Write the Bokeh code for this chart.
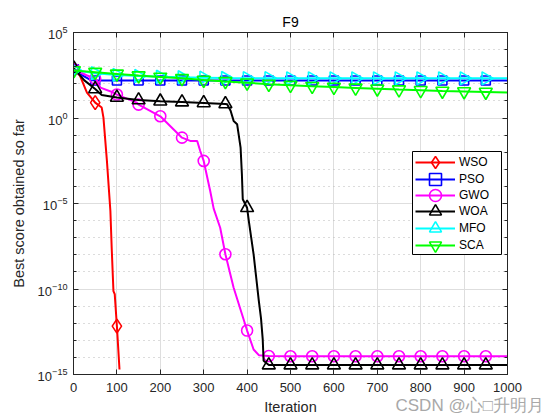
import numpy as np
from bokeh.plotting import figure
from bokeh.models import (FixedTicker, LinearAxis, LogAxis, Legend, LegendItem,
                          Label, CustomJSTickFormatter, BoxAnnotation)
from bokeh.embed import file_html
from bokeh.resources import INLINE

# ---------------- data (log10 of best score) -------------
marker_iters = [1, 50, 100, 150, 200, 250, 300, 350, 400, 450, 500, 550, 600,
                650, 700, 750, 800, 850, 900, 950]

wso_iter = [1, 15, 31, 50, 65, 69, 77, 85, 88, 92, 95, 100, 106]
wso_log10 = [2.85, 2.46, 1.49, 0.90, 0.61, 0.02, -2.51, -5.44, -7.59, -10.12,
             -10.30, -12.17, -14.71]

pso_iter = [1, 20, 40, 50, 100, 150, 200, 250, 300, 350, 400, 450, 500, 550,
            600, 650, 700, 750, 800, 850, 900, 950, 1000]
pso_log10 = [2.85, 2.50, 2.22, 2.19, 2.19, 2.19, 2.19, 2.19, 2.19, 2.19, 2.19,
             2.19, 2.19, 2.19, 2.19, 2.19, 2.19, 2.19, 2.19, 2.19, 2.19, 2.19, 2.19]

gwo_iter = [1, 30, 50, 54, 62, 92, 100, 146, 150, 200, 250, 269, 285, 292, 300,
            315, 323, 338, 350, 369, 400, 415, 427, 450, 500, 550, 600, 650,
            700, 750, 800, 850, 900, 950, 1000]
gwo_log10 = [2.85, 2.50, 2.30, 2.20, 1.78, 1.49, 1.37, 0.90, 0.78, 0.10, -1.15,
             -1.34, -1.34, -1.93, -2.51, -4.27, -5.30, -6.42, -7.97, -9.93,
             -12.43, -13.54, -13.87, -13.92, -13.93, -13.93, -13.93, -13.93,
             -13.93, -13.93, -13.93, -13.93, -13.93, -13.93, -13.93]

woa_iter = [1, 25, 50, 65, 100, 150, 200, 250, 300, 350, 354, 362, 369, 377,
            385, 388, 390, 400, 404, 415, 427, 432, 436, 438, 450, 500, 550,
            600, 650, 700, 750, 800, 850, 900, 950, 1000]
woa_log10 = [2.90, 2.20, 1.70, 1.35, 1.20, 1.05, 0.98, 0.93, 0.88, 0.82, 0.80,
             0.42, -0.17, -0.36, -1.73, -3.29, -4.75, -5.25, -6.03, -7.97,
             -10.70, -11.70, -12.95, -14.20, -14.45, -14.45, -14.45, -14.45,
             -14.45, -14.45, -14.45, -14.45, -14.45, -14.45, -14.45, -14.45]

mfo_iter = [1, 50, 100, 150, 200, 250, 300, 350, 400, 450, 500, 550, 600, 650,
            700, 750, 800, 850, 900, 950, 1000]
mfo_log10 = [2.80, 2.62, 2.52, 2.46, 2.41, 2.38, 2.36, 2.34, 2.33, 2.33, 2.32,
             2.32, 2.32, 2.32, 2.32, 2.32, 2.32, 2.32, 2.32, 2.32, 2.32]

sca_iter = [1, 50, 100, 150, 200, 250, 300, 350, 400, 450, 500, 550, 600, 650,
            700, 750, 800, 850, 900, 950, 1000]
sca_log10 = [2.78, 2.68, 2.58, 2.48, 2.40, 2.32, 2.22, 2.14, 2.06, 1.98, 1.92,
             1.86, 1.81, 1.76, 1.71, 1.66, 1.62, 1.58, 1.55, 1.52, 1.49]

series_names = ["WSO", "PSO", "GWO", "WOA", "MFO", "SCA"]
x_ticks = [0, 100, 200, 300, 400, 500, 600, 700, 800, 900, 1000]
y_major_exponents = [-15, -10, -5, 0, 5]
y_minor_exponents = list(range(-15, 6))
watermark = "CSDN @心□升明月"

# ---------------- figure ---------------------------------------------------------
FONT = "Liberation Sans"
AX = "#262626"

p = figure(frame_width=434, frame_height=342, x_range=(0, 1000),
           y_range=(1e-15, 1e5), y_axis_type="log",
           output_backend="svg", toolbar_location=None,
           min_border_left=73, min_border_right=45, min_border_top=32,
           min_border_bottom=44, title="F9")
p.background_fill_color = "white"
p.border_fill_color = "white"
p.outline_line_color = AX
p.outline_line_width = 1

p.title.align = "center"
p.title.text_font = FONT
p.title.text_font_size = "14px"
p.title.text_font_style = "normal"
p.title.text_color = "#000000"
p.title.offset = 0
p.title.standoff = 5

xt = FixedTicker(ticks=x_ticks)
yt = FixedTicker(ticks=[10.0 ** e for e in y_major_exponents],
                 minor_ticks=[10.0 ** e for e in y_minor_exponents])

p.xaxis.ticker = xt
p.yaxis.ticker = yt
for ax in (p.xaxis[0], p.yaxis[0]):
    ax.axis_line_color = AX
    ax.major_tick_line_color = AX
    ax.minor_tick_line_color = AX
    ax.major_tick_in = 5
    ax.major_tick_out = 0
    ax.minor_tick_in = 3
    ax.minor_tick_out = 0
    ax.major_label_text_font = FONT
    ax.major_label_text_font_size = "13px"
    ax.major_label_text_color = AX
    ax.axis_label_text_font = FONT
    ax.axis_label_text_font_size = "14.5px"
    ax.axis_label_text_font_style = "normal"
    ax.axis_label_text_color = AX
p.xaxis.axis_label = "Iteration"
p.yaxis.axis_label = "Best score obtained so far"
p.xaxis.major_label_standoff = 8
p.xaxis.axis_label_standoff = 4
p.yaxis.major_label_standoff = 6
p.yaxis.axis_label_standoff = 8
p.xaxis.minor_tick_line_color = None

blank = CustomJSTickFormatter(code="return ''")
top = LinearAxis(ticker=xt, formatter=blank, major_tick_in=5, major_tick_out=0,
                 minor_tick_line_color=None, major_label_text_font_size="0px",
                 major_label_standoff=0, axis_line_color=AX,
                 major_tick_line_color=AX)
right = LogAxis(ticker=yt, formatter=blank, major_tick_in=5, major_tick_out=0,
                minor_tick_in=3, minor_tick_out=0,
                major_label_text_font_size="0px", major_label_standoff=0,
                axis_line_color=AX, major_tick_line_color=AX,
                minor_tick_line_color=AX)
p.add_layout(top, "above")
p.add_layout(right, "right")

p.xgrid.ticker = xt
p.ygrid.ticker = yt
p.xgrid.grid_line_color = "#dedede"
p.ygrid.grid_line_color = "#dedede"
p.ygrid.minor_grid_line_color = "#b8b8b8"
p.ygrid.minor_grid_line_dash = "1 4"

styles = {
    "WSO": dict(color="#ff0000", marker="diamond", size=14, angle=0.0),
    "PSO": dict(color="#0000ff", marker="square", size=9, angle=0.0),
    "GWO": dict(color="#ff00ff", marker="circle", size=11, angle=0.0),
    "WOA": dict(color="#000000", marker="triangle", size=13, angle=0.0),
    "MFO": dict(color="#00ffff", marker="triangle", size=13, angle=-np.pi / 2),
    "SCA": dict(color="#00ff00", marker="inverted_triangle", size=13, angle=0.0),
}
data = {
    "WSO": (wso_iter, wso_log10),
    "PSO": (pso_iter, pso_log10),
    "GWO": (gwo_iter, gwo_log10),
    "WOA": (woa_iter, woa_log10),
    "MFO": (mfo_iter, mfo_log10),
    "SCA": (sca_iter, sca_log10),
}

items = []
for name in series_names:
    it, lg = data[name]
    st = styles[name]
    yv = [10.0 ** v for v in lg]
    lr = p.line(it, yv, line_color=st["color"], line_width=2)
    mx = [i for i in it if i in marker_iters]
    my = [10.0 ** v for i, v in zip(it, lg) if i in marker_iters]
    sr = p.scatter(mx, my, marker=st["marker"], size=st["size"],
                   angle=st["angle"], angle_units="rad",
                   line_color=st["color"], line_width=1.6,
                   fill_color=None, fill_alpha=0)
    items.append(LegendItem(label=name, renderers=[lr, sr]))

# legend frame (screen units, relative to the plot frame)
box = BoxAnnotation(left=339, right=428, bottom=120, top=223,
                    left_units="screen", right_units="screen",
                    bottom_units="screen", top_units="screen",
                    fill_color="white", fill_alpha=1.0,
                    line_color="#000000", line_alpha=1.0, line_width=1)
p.add_layout(box)

# one legend per row so that the legend markers keep a readable size
row_pitch = 16.5
first_row_bottom = 197
for k, item in enumerate(items):
    lg = Legend(items=[item],
                location=(342, int(round(first_row_bottom - k * row_pitch))))
    lg.border_line_color = None
    lg.background_fill_alpha = 0.0
    lg.label_text_font = FONT
    lg.label_text_font_size = "12px"
    lg.label_text_color = "#000000"
    lg.glyph_width = 40
    lg.glyph_height = 30
    lg.label_height = 16
    lg.spacing = 0
    lg.padding = 0
    lg.margin = 0
    lg.label_standoff = 4
    p.add_layout(lg)

# watermark, placed in the panel below the x axis
wm = Label(x=322, y=31, x_units="screen", y_units="screen", text=watermark,
           text_font=FONT, text_font_size="17px", text_color="#a8a8a8",
           text_baseline="alphabetic")
p.add_layout(wm, "below")

open("out.html", "w").write(file_html(p, INLINE))
